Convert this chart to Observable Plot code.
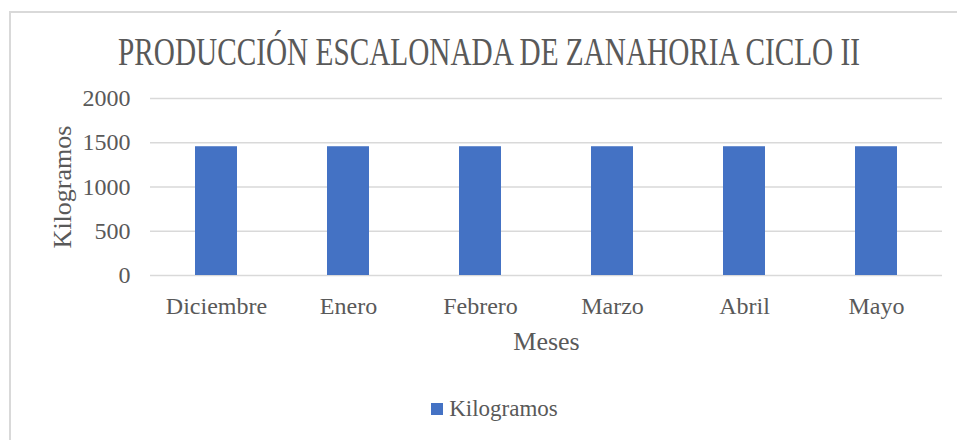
<!DOCTYPE html>
<html>
<head>
<meta charset="utf-8">
<script src="https://cdn.jsdelivr.net/npm/d3@7"></script>
<script src="https://cdn.jsdelivr.net/npm/@observablehq/plot@0.6"></script>
<style>
  html, body { margin: 0; padding: 0; background: #fff; overflow: hidden; }
  body { width: 957px; height: 440px; position: relative; font-family: "Liberation Serif", "Times New Roman", serif; color: #595959; }
  #frame { position: absolute; left: 9px; top: 11px; width: 1000px; height: 1000px; border: 2px solid #d9d9d9; box-sizing: border-box; }
  #title { position: absolute; left: 0; top: 32px; font-size: 39px; line-height: 39px; white-space: nowrap; transform-origin: 0 50%; }
  #chart { position: absolute; left: 0; top: 0; }
  #legend { position: absolute; left: 0; width: 957px; padding-left: 32px; box-sizing: border-box; top: 395px; text-align: center; font-size: 23px; line-height: 28px; white-space: nowrap; }
  #legend .sw { display: inline-block; width: 12px; height: 12px; background: #4472C4; margin-right: 6px; vertical-align: 1px; }
</style>
</head>
<body>
<div id="frame"></div>
<div id="chart"></div>
<span id="title">PRODUCCIÓN ESCALONADA DE ZANAHORIA CICLO II</span>
<div id="legend"><span class="sw"></span>Kilogramos</div>
<script>
const months = ["Diciembre", "Enero", "Febrero", "Marzo", "Abril", "Mayo"];
const kilogramos = [1455, 1455, 1455, 1455, 1455, 1455];
const yTicks = [0, 500, 1000, 1500, 2000];

const data = months.map((m, i) => ({mes: m, kg: kilogramos[i]}));
const font = "Liberation Serif, Times New Roman, serif";

const chart = Plot.plot({
  width: 957,
  height: 440,
  marginTop: 98,
  marginBottom: 165,
  marginLeft: 150,
  marginRight: 15,
  style: {fontFamily: font, color: "#595959", background: "transparent", overflow: "visible"},
  x: {domain: months, paddingInner: 0.682, paddingOuter: 0.341},
  y: {domain: [0, 2000]},
  marks: [
    Plot.gridY(yTicks, {stroke: "#d9d9d9", strokeOpacity: 1, strokeWidth: 1.5}),
    Plot.barY(data, {x: "mes", y: "kg", fill: "#4472C4"}),
    Plot.axisX({tickSize: 0, tickPadding: 21, fontSize: 24, fill: "#595959", label: null}),
    Plot.axisY(yTicks, {tickSize: 0, tickPadding: 20, fontSize: 24, fill: "#595959", label: null, tickFormat: d3.format("d")}),
    Plot.text(["Kilogramos"], {frameAnchor: "left", dx: -88, rotate: -90, fontSize: 26, fill: "#595959", textAnchor: "middle", lineAnchor: "middle"}),
    Plot.text(["Meses"], {frameAnchor: "bottom", dy: 66, fontSize: 26, fill: "#595959", textAnchor: "middle", lineAnchor: "middle"})
  ]
});
document.getElementById("chart").appendChild(chart);

// condensed title: fit between x=118 and x=860
const t = document.getElementById("title");
const w = t.getBoundingClientRect().width;
const targetLeft = 118, targetWidth = 742;
t.style.left = targetLeft + "px";
t.style.transform = `scaleX(${targetWidth / w})`;
</script>
</body>
</html>
